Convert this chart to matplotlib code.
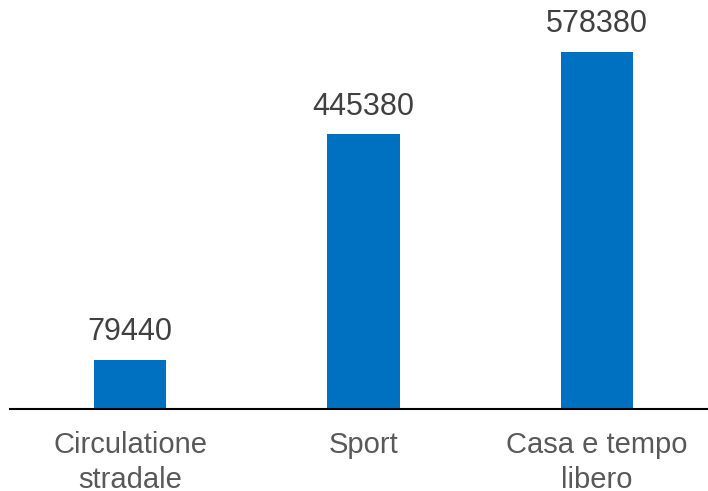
import matplotlib
matplotlib.use('Agg')
import matplotlib.pyplot as plt

categories = ['Circulatione\nstradale', 'Sport', 'Casa e tempo\nlibero']
values = [79440, 445380, 578380]

plt.rcParams['font.family'] = ['Liberation Sans', 'DejaVu Sans']

fig = plt.figure(figsize=(7.08, 4.91), dpi=100)
ax = fig.add_axes([10 / 708, 82 / 491, 698 / 708, 409 / 491])

x = list(range(len(categories)))
bars = ax.bar(x, values, width=0.31, color='#0070C0', zorder=2)

for xi, v in zip(x, values):
    ax.annotate(str(v), (xi, v), xytext=(0, 9), textcoords='offset points',
                ha='center', va='bottom', fontsize=22, color='#404040')

ax.set_xlim(-0.514, 2.475)
ax.set_ylim(0, 662600)
ax.set_xticks(x)
ax.set_xticklabels(categories, fontsize=21, color='#595959', linespacing=1.3)
ax.tick_params(axis='x', length=0, pad=16)
ax.set_yticks([])
for s in ['top', 'right', 'left']:
    ax.spines[s].set_visible(False)
ax.spines['bottom'].set_color('black')
ax.spines['bottom'].set_linewidth(1.5)

plt.savefig('out.png', dpi=100)
